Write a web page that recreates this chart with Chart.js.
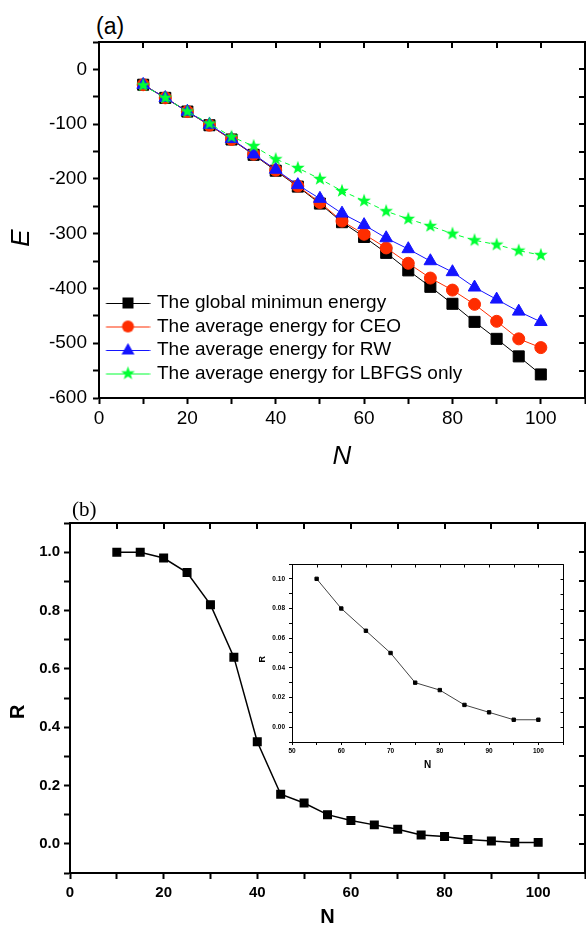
<!DOCTYPE html>
<html lang="en">
<head>
<meta charset="UTF-8">
<title>Energy and success ratio versus N</title>
<script src="https://cdn.jsdelivr.net/npm/chart.js@4.4.6/dist/chart.umd.min.js"></script>
<style>
  body { margin: 0; background: #fff; }
  #page { position: relative; width: 586px; height: 925px; overflow: hidden; font-family: "Liberation Sans", Arial, sans-serif; }
  canvas { position: absolute; }
  .tag { position: absolute; color: #000; line-height: 1; white-space: nowrap; }
</style>
</head>
<body>
<div id="page">
  <canvas id="chart-a" width="586" height="429" style="left:0;top:41px"></canvas>
  <canvas id="chart-b" width="586" height="455" style="left:0;top:470px"></canvas>
  <canvas id="chart-inset" width="320" height="215" style="left:250px;top:555px"></canvas>
  <div class="tag" style="left:96px;top:15px;font-size:23px">(a)</div>
  <div class="tag" style="left:72px;top:499px;font-size:21px;font-family:'Liberation Serif',serif">(b)</div>
</div>
<script>
// cluster sizes
const nValues = [10, 15, 20, 25, 30, 35, 40, 45, 50, 55, 60, 65, 70, 75, 80, 85, 90, 95, 100];
// panel (a) energies
const globalMin = [-28, -52, -77, -102, -128, -156, -185, -214, -245, -279, -306, -335, -367, -397, -428, -461, -492, -524, -557];
const ceoAvg = [-28, -52, -77, -102, -128, -155, -184, -213, -243, -277, -301, -326, -354, -381, -403, -429, -460, -492, -508];
const rwAvg = [-28, -52, -77, -101, -127, -155, -183, -211, -236, -263, -284, -308, -328, -350, -370, -398, -420, -442, -461];
const lbfgsAvg = [-29, -52, -77, -99, -123, -140, -164, -180, -200, -222, -240, -259, -273, -286, -300, -312, -320, -331, -339];
const seriesNames = ['The global minimun energy', 'The average energy for CEO', 'The average energy for RW', 'The average energy for LBFGS only'];
// panel (b) success ratio
const ratioR = [1.0, 1.0, 0.98, 0.93, 0.82, 0.64, 0.35, 0.17, 0.14, 0.10, 0.08, 0.065, 0.05, 0.03, 0.025, 0.015, 0.01, 0.005, 0.005];
const insetStart = 9; // inset shows N >= 55

const SANS = '"Liberation Sans", Arial, sans-serif';
const colors = ['#000000', '#ff2d00', '#1414ff', '#00ff33'];
const markers = ['square', 'circle', 'triangle', 'star'];

const pts = (ys, from = 0) => nValues.slice(from).map((n, i) => ({x: n, y: ys[from + i]}));

function drawMarker(ctx, kind, cx, cy, color) {
  ctx.fillStyle = color;
  ctx.beginPath();
  if (kind === 'square') {
    ctx.rect(cx - 5.5, cy - 5.5, 11, 11);
  } else if (kind === 'circle') {
    ctx.arc(cx, cy, 6, 0, Math.PI * 2);
  } else if (kind === 'triangle') {
    ctx.moveTo(cx, cy - 7);
    ctx.lineTo(cx + 6.5, cy + 4.5);
    ctx.lineTo(cx - 6.5, cy + 4.5);
  } else {
    for (let k = 0; k < 10; k++) {
      const r = k % 2 ? 2.9 : 7.2;
      const a = -Math.PI / 2 + k * Math.PI / 5;
      ctx.lineTo(cx + r * Math.cos(a), cy + r * Math.sin(a));
    }
  }
  ctx.closePath();
  ctx.fill();
}

// filled star used as point style
const starImg = document.createElement('canvas');
starImg.width = 16; starImg.height = 16;
drawMarker(starImg.getContext('2d'), 'star', 8, 8, colors[3]);

// legend icons: line with marker through it
const legendIcons = markers.map((m, i) => {
  const c = document.createElement('canvas');
  c.width = 50; c.height = 20;
  const g = c.getContext('2d');
  g.strokeStyle = colors[i];
  g.lineWidth = 1;
  g.beginPath(); g.moveTo(5.5, 10.5); g.lineTo(49.5, 10.5); g.stroke();
  drawMarker(g, m, 27.5, 10, colors[i]);
  return c;
});

// top and right frame lines with inward ticks
const mirrorAxes = {
  id: 'mirrorAxes',
  afterDraw(chart, args, opts) {
    const {ctx, chartArea: a, scales: {x, y}} = chart;
    const off = opts.width % 2 ? 0.5 : 0;
    const top = Math.round(a.top) + off, right = Math.round(a.right) + off;
    ctx.save();
    ctx.strokeStyle = '#000';
    ctx.lineWidth = opts.width;
    ctx.beginPath();
    ctx.moveTo(a.left, top); ctx.lineTo(right, top); ctx.lineTo(right, a.bottom);
    x.ticks.forEach(t => {
      const px = Math.round(x.getPixelForValue(t.value)) + off;
      ctx.moveTo(px, top); ctx.lineTo(px, top + opts.len);
    });
    y.ticks.forEach(t => {
      const py = Math.round(y.getPixelForValue(t.value)) + off;
      ctx.moveTo(right, py); ctx.lineTo(right - opts.len, py);
    });
    ctx.stroke();
    ctx.restore();
  }
};

const axisLine = (w) => ({
  grid: {drawOnChartArea: false, tickLength: 6, tickWidth: w, tickColor: '#000'},
  border: {color: '#000', width: w}
});

// fix an axis box size and drop the label overhang padding
const fixBox = (w, h) => s => {
  if (w) s.width = w;
  if (h) s.height = h;
  s.paddingTop = 0; s.paddingBottom = 0; s.paddingLeft = 0; s.paddingRight = 0;
};

// ---------- panel (a) ----------
const energySets = [globalMin, ceoAvg, rwAvg, lbfgsAvg];
const styleA = [
  {pointStyle: 'rect', pointRadius: 7.8},
  {pointStyle: 'circle', pointRadius: 6},
  {pointStyle: 'triangle', pointRadius: 7.3},
  {pointStyle: starImg, pointRadius: 7, borderDash: [5, 4]}
];

new Chart(document.getElementById('chart-a'), {
  type: 'line',
  data: {
    datasets: energySets.map((ys, i) => Object.assign({
      label: seriesNames[i],
      data: pts(ys),
      borderColor: colors[i],
      backgroundColor: colors[i],
      pointBorderColor: colors[i],
      pointBackgroundColor: colors[i],
      borderWidth: 1,
      pointBorderWidth: 1,
      tension: 0,
      order: 3 - i
    }, styleA[i]))
  },
  options: {
    responsive: false,
    animation: false,
    events: [],
    layout: {autoPadding: false, padding: {top: 1, right: 1, left: 0, bottom: 0}},
    scales: {
      x: Object.assign({
        type: 'linear', min: 0, max: 110,
        afterFit: fixBox(0, 72),
        ticks: {stepSize: 10, autoSkip: false, maxRotation: 0, padding: 3, color: '#000',
          font: {family: SANS, size: 19},
          callback: v => v % 20 === 0 ? String(v) : ''},
        title: {display: true, text: 'N', color: '#000',
          font: {family: SANS, size: 26, style: 'italic', lineHeight: 1}, padding: {top: 4, bottom: 0}}
      }, axisLine(2)),
      y: Object.assign({
        type: 'linear', min: -600, max: 50,
        afterFit: fixBox(99, 0),
        ticks: {stepSize: 50, autoSkip: false, padding: 6, color: '#000',
          font: {family: SANS, size: 19},
          callback: v => v % 100 === 0 ? String(v) : ''},
        title: {display: true, text: 'E     ', color: '#000',
          font: {family: SANS, size: 26, style: 'italic', lineHeight: 1}, padding: {top: 8.5, bottom: 0}}
      }, axisLine(2))
    },
    plugins: {
      tooltip: {enabled: false},
      mirrorAxes: {len: 6, width: 2},
      legend: {
        position: 'chartArea',
        align: 'start',
        title: {display: true, text: '', padding: {top: 233.6, bottom: 0}},
        labels: {
          usePointStyle: true,
          pointStyleWidth: 44,
          padding: 4.5,
          color: '#000',
          font: {family: SANS, size: 19},
          generateLabels: chart => chart.data.datasets.map((ds, i) => ({
            text: ds.label, pointStyle: legendIcons[i], datasetIndex: i,
            fillStyle: 'transparent', strokeStyle: 'transparent', lineWidth: 0, hidden: false, fontColor: '#000'
          }))
        }
      }
    }
  },
  plugins: [mirrorAxes]
});

// ---------- panel (b) ----------
new Chart(document.getElementById('chart-b'), {
  type: 'line',
  data: {
    datasets: [{
      data: pts(ratioR),
      borderColor: '#000', backgroundColor: '#000',
      pointBackgroundColor: '#000', pointBorderColor: '#000',
      borderWidth: 1.5, pointStyle: 'rect', pointRadius: 5.3, tension: 0
    }]
  },
  options: {
    responsive: false,
    animation: false,
    events: [],
    layout: {autoPadding: false, padding: {top: 53, right: 1, left: 0, bottom: 0}},
    scales: {
      x: Object.assign({
        type: 'linear', min: 0, max: 110,
        afterFit: fixBox(0, 52),
        ticks: {stepSize: 10, autoSkip: false, maxRotation: 0, padding: 5, color: '#000',
          font: {family: SANS, size: 15, weight: 'bold'},
          callback: v => v % 20 === 0 ? String(v) : ''},
        title: {display: true, text: 'N', color: '#000',
          font: {family: SANS, size: 20, weight: 'bold', lineHeight: 0.8}, padding: {top: 0, bottom: 0}}
      }, axisLine(2)),
      y: Object.assign({
        type: 'linear', min: -0.1, max: 1.1,
        afterFit: fixBox(70, 0),
        ticks: {stepSize: 0.1, autoSkip: false, padding: 4, color: '#000',
          font: {family: SANS, size: 15, weight: 'bold'},
          callback: v => (v > -0.001 && Math.round(v * 10) % 2 === 0) ? v.toFixed(1) : ''},
        title: {display: true, text: 'R     ', color: '#000',
          font: {family: SANS, size: 20, weight: 'bold', lineHeight: 1}, padding: {top: 8.5, bottom: 0}}
      }, axisLine(2))
    },
    plugins: {legend: {display: false}, tooltip: {enabled: false}, mirrorAxes: {len: 6, width: 2}}
  },
  plugins: [mirrorAxes]
});

// ---------- inset ----------
const insetAxis = () => ({
  grid: {drawOnChartArea: false, tickLength: 3, tickWidth: 1, tickColor: '#000'},
  border: {color: '#000', width: 1}
});

new Chart(document.getElementById('chart-inset'), {
  type: 'line',
  data: {
    datasets: [{
      data: pts(ratioR, insetStart),
      borderColor: '#444', backgroundColor: '#000',
      pointBackgroundColor: '#000', pointBorderColor: '#000',
      borderWidth: 1, pointStyle: 'rect', pointRadius: 2.4, tension: 0
    }]
  },
  options: {
    responsive: false,
    animation: false,
    events: [],
    layout: {autoPadding: false, padding: {top: 9, right: 7, left: 0, bottom: 0}},
    scales: {
      x: Object.assign({
        type: 'linear', min: 50, max: 105,
        afterFit: fixBox(0, 28),
        ticks: {stepSize: 5, autoSkip: false, maxRotation: 0, padding: 2, color: '#000',
          font: {family: SANS, size: 6.5, weight: 'bold'},
          callback: v => v % 10 === 0 ? String(v) : ''},
        title: {display: true, text: 'N', color: '#000',
          font: {family: SANS, size: 10, weight: 'bold', lineHeight: 1}, padding: {top: 0, bottom: 0}}
      }, insetAxis()),
      y: Object.assign({
        type: 'linear', min: -0.01, max: 0.11,
        afterFit: fixBox(42, 0),
        ticks: {stepSize: 0.01, autoSkip: false, padding: 4, color: '#000',
          font: {family: SANS, size: 6.5, weight: 'bold'},
          callback: v => (v > -0.001 && Math.round(v * 100) % 2 === 0) ? v.toFixed(2) : ''},
        title: {display: true, text: 'R     ', color: '#000',
          font: {family: SANS, size: 9, weight: 'bold', lineHeight: 1}, padding: {top: 8.5, bottom: 0}}
      }, insetAxis())
    },
    plugins: {legend: {display: false}, tooltip: {enabled: false}, mirrorAxes: {len: 3, width: 1}}
  },
  plugins: [mirrorAxes]
});
</script>
</body>
</html>
